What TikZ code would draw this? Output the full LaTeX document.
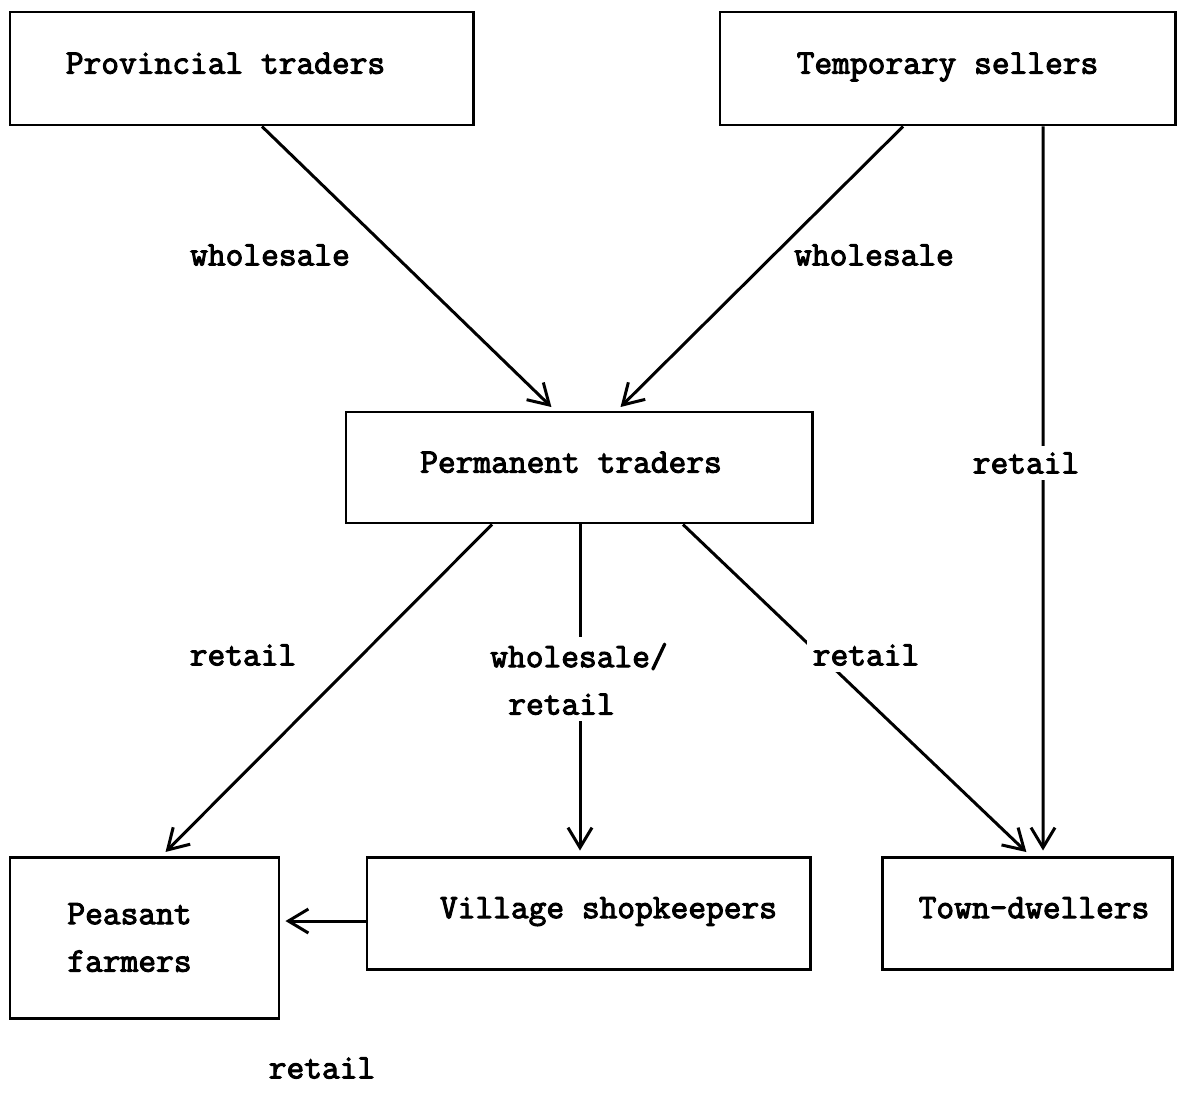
\documentclass[tikz,border=0pt]{standalone}
\usepackage{fontspec}
\newfontfamily\typewriter[FakeBold=3]{Latin Modern Mono}
\usetikzlibrary{arrows.meta,calc}

\tikzset{
  box/.style={draw, line width=1.7pt, inner sep=0pt},
  oneline/.style={text height=0.75em, text depth=0.45em},
  lbl/.style={inner sep=1pt},
  cut/.style={fill=white, inner sep=1.2mm},
}

\begin{document}
\fontsize{19.6}{27}\selectfont\typewriter
\begin{tikzpicture}[x=0.2mm, y=-0.2mm, line width=1.7pt,
    >={Straight Barb[length=4mm, width=4.8mm]}, shorten >=1mm]
            \useasboundingbox (0,0) rectangle (1192,1110);

            % boxes
            \node[box, oneline, minimum width=92.6mm, minimum height=22.6mm] (prov) at (241.5,68.5) {\hspace*{-6.4mm}Provincial traders};
            \node[box, oneline, minimum width=91mm, minimum height=22.6mm] (temp) at (947.5,68.5) {Temporary sellers};
            \node[box, oneline, minimum width=93.2mm, minimum height=22.2mm] (perm) at (579,467.5) {\hspace*{-3.2mm}Permanent traders};
            \node[box, minimum width=53.8mm, minimum height=32.2mm, align=left] (peas) at (144.5,937.5) {\hspace*{-6mm}Peasant\\\hspace*{-6mm}farmers};
            \node[box, oneline, minimum width=88.6mm, minimum height=22.4mm] (vill) at (588.5,913) {Village shopkeepers\hspace*{-8mm}};
            \node[box, oneline, minimum width=58mm, minimum height=22.4mm] (town) at (1027,913) {Town-dwellers\hspace*{-2.8mm}};

            % arrows
            \draw[->] ($(prov.south)+(20.5,0)$) to ($(perm.north)+(-24,0)$);
            \draw[->] ($(temp.south)+(-44.5,0)$) to ($(perm.north)+(38,0)$);
            \draw[->] ($(temp.south)+(95.5,0)$) to ($(town.north)+(16,0)$);
            \draw[->] ($(perm.south)+(-87,0)$) to ($(peas.north)+(17.5,0)$);
            \draw[->] ($(perm.south)+(1,0)$) to ($(vill.north)+(-8.5,0)$);
            \draw[->] ($(perm.south)+(104,0)$) to ($(town.north)+(3,0)$);
            \draw[->] ($(vill.west)+(0,8)$) coordinate (vw) to (vw -| peas.east);

            % labels
            \node[lbl] (ws1) at (270,255) {wholesale};
            \node[lbl] (ws2) at (874,255) {wholesale};
            \node[cut] (rt1) at (1026,463) {retail};
            \node[lbl] (rt2) at (243,655) {retail};
            \node[cut, align=left] (wr) at (579,679) {wholesale/\\\hspace*{3.6mm}retail};
            \node[cut] (rt3) at (866,655) {retail};
            \node[lbl] (rt4) at (322,1068) {retail};
        \end{tikzpicture}
\end{document}
